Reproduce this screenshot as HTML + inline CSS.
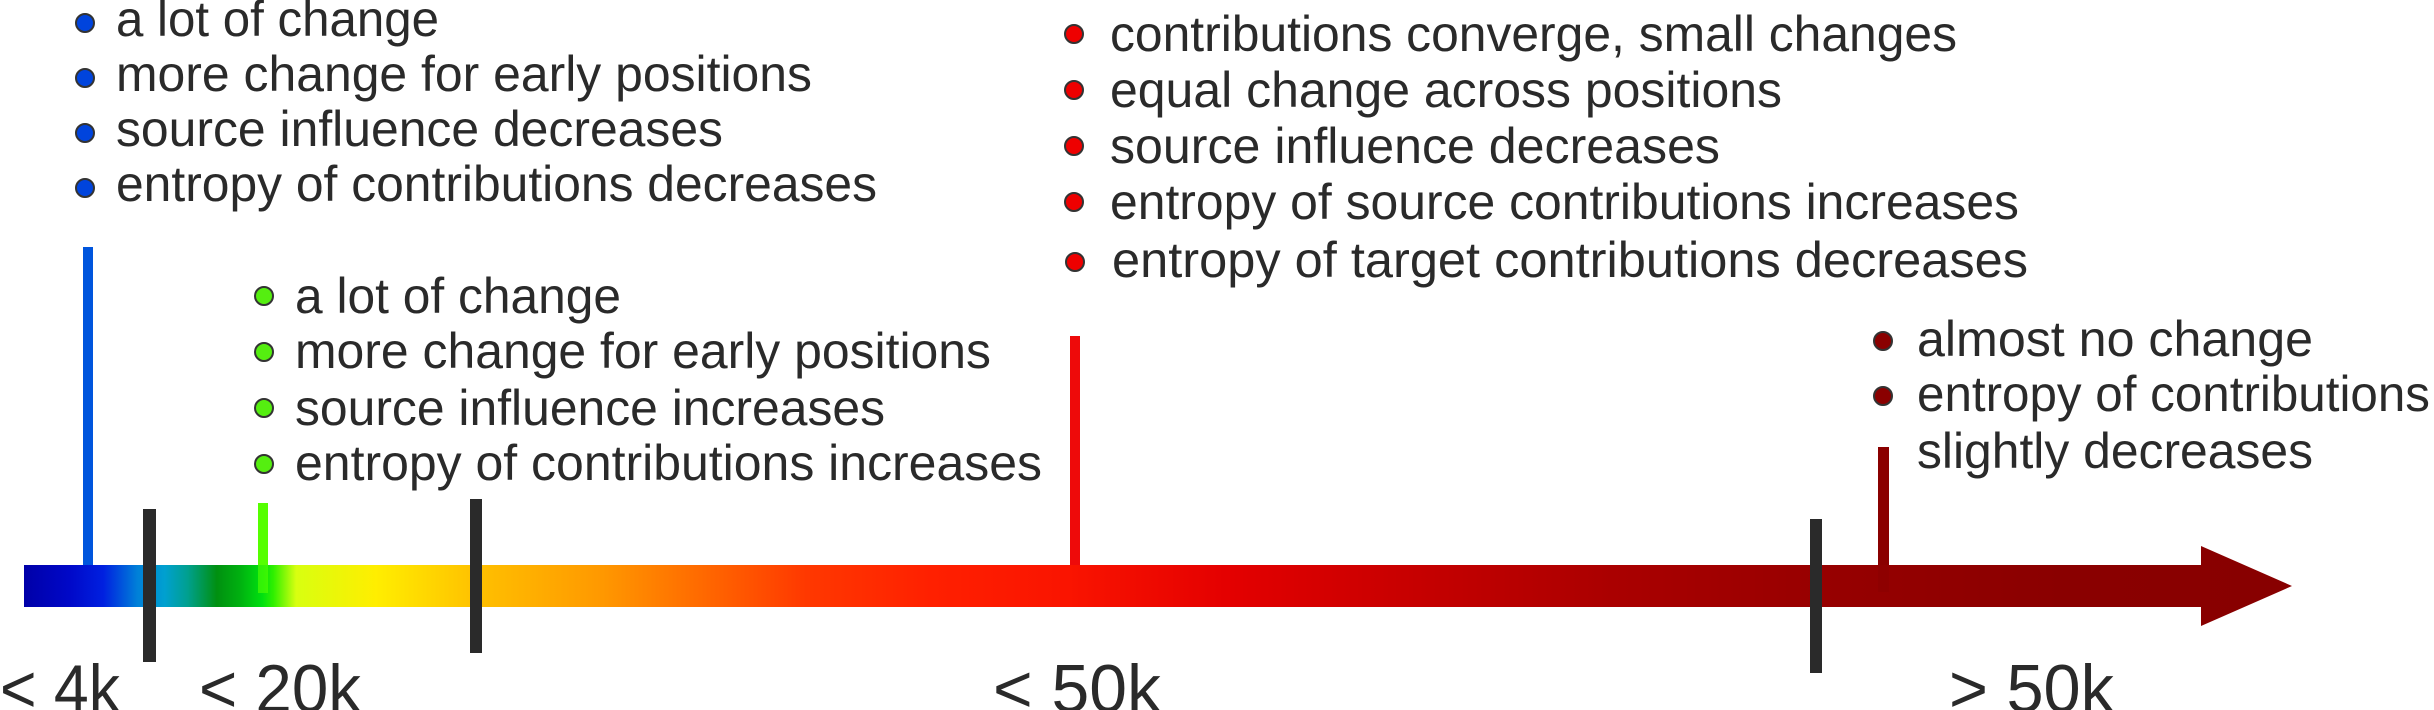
<!DOCTYPE html>
<html><head><meta charset="utf-8"><style>
html,body{margin:0;padding:0;background:#fff;overflow:hidden}
svg{display:block}
text{font-family:"Liberation Sans",Arial,sans-serif;fill:#2a2a2a}
</style></head><body>
<svg width="2434" height="710" viewBox="0 0 2434 710" xmlns="http://www.w3.org/2000/svg">
<defs>
<linearGradient id="g" gradientUnits="userSpaceOnUse" x1="24" y1="0" x2="2292" y2="0">
<stop offset="0" stop-color="#0000a8"/>
<stop offset="0.02" stop-color="#0008c8"/>
<stop offset="0.035" stop-color="#0020e0"/>
<stop offset="0.05" stop-color="#0080d8"/>
<stop offset="0.062" stop-color="#00a0d0"/>
<stop offset="0.072" stop-color="#00a090"/>
<stop offset="0.085" stop-color="#009010"/>
<stop offset="0.095" stop-color="#00b010"/>
<stop offset="0.105" stop-color="#00e010"/>
<stop offset="0.11" stop-color="#30f000"/>
<stop offset="0.12" stop-color="#d8ff10"/>
<stop offset="0.155" stop-color="#ffee00"/>
<stop offset="0.2" stop-color="#ffc000"/>
<stop offset="0.255" stop-color="#ff9800"/>
<stop offset="0.3" stop-color="#ff6800"/>
<stop offset="0.345" stop-color="#ff3800"/>
<stop offset="0.4" stop-color="#ff2000"/>
<stop offset="0.46" stop-color="#fa1400"/>
<stop offset="0.53" stop-color="#e40000"/>
<stop offset="0.62" stop-color="#c40000"/>
<stop offset="0.7" stop-color="#aa0000"/>
<stop offset="0.8" stop-color="#960000"/>
<stop offset="0.9" stop-color="#8a0000"/>
<stop offset="1" stop-color="#880000"/>
</linearGradient>
</defs>
<rect x="83" y="247" width="10" height="320" fill="#0055dd"/>
<rect x="258" y="503" width="10" height="90" fill="#55ff00"/>
<rect x="1070" y="336" width="10" height="230" fill="#ee0a0a"/>
<rect x="1878" y="447" width="11" height="145" fill="#8a0000"/>
<path d="M24 565 H2201 V546 L2292 586 L2201 626 V607 H24 Z" fill="url(#g)"/>
<rect x="258" y="565" width="10" height="28" fill="#55ff00" opacity="0.6"/>
<rect x="1878" y="565" width="11" height="27" fill="#8a0000" opacity="0.6"/>
<rect x="143" y="509" width="13" height="153" fill="#2a2a2a"/>
<rect x="470" y="499" width="12" height="154" fill="#2a2a2a"/>
<rect x="1810" y="519" width="12" height="154" fill="#2a2a2a"/>
<g font-size="68">
<text x="0" y="712" textLength="120" lengthAdjust="spacingAndGlyphs">&lt; 4k</text>
<text x="199" y="712" textLength="162" lengthAdjust="spacingAndGlyphs">&lt; 20k</text>
<text x="993" y="712" textLength="168" lengthAdjust="spacingAndGlyphs">&lt; 50k</text>
<text x="1949" y="712" textLength="165" lengthAdjust="spacingAndGlyphs">&gt; 50k</text>
</g>
<g stroke="#333" stroke-width="2">
<circle cx="85" cy="23" r="9" fill="#0044dd"/>
<circle cx="85" cy="78" r="9" fill="#0044dd"/>
<circle cx="85" cy="133" r="9" fill="#0044dd"/>
<circle cx="85" cy="188" r="9" fill="#0044dd"/>
<circle cx="264" cy="296" r="9" fill="#55ee10"/>
<circle cx="264" cy="352" r="9" fill="#55ee10"/>
<circle cx="264" cy="408" r="9" fill="#55ee10"/>
<circle cx="264" cy="464" r="9" fill="#55ee10"/>
<circle cx="1074" cy="34" r="9" fill="#ee0000"/>
<circle cx="1074" cy="90" r="9" fill="#ee0000"/>
<circle cx="1074" cy="146" r="9" fill="#ee0000"/>
<circle cx="1074" cy="202" r="9" fill="#ee0000"/>
<circle cx="1075" cy="262" r="9" fill="#ee0000"/>
<circle cx="1883" cy="341" r="9" fill="#8a0000"/>
<circle cx="1883" cy="396" r="9" fill="#8a0000"/>
</g>
<g font-size="50">
<text x="116" y="36" textLength="323" lengthAdjust="spacingAndGlyphs">a lot of change</text>
<text x="116" y="91" textLength="696" lengthAdjust="spacingAndGlyphs">more change for early positions</text>
<text x="116" y="146" textLength="607" lengthAdjust="spacingAndGlyphs">source influence decreases</text>
<text x="116" y="201" textLength="761" lengthAdjust="spacingAndGlyphs">entropy of contributions decreases</text>

<text x="295" y="313" textLength="326" lengthAdjust="spacingAndGlyphs">a lot of change</text>
<text x="295" y="368" textLength="696" lengthAdjust="spacingAndGlyphs">more change for early positions</text>
<text x="295" y="425" textLength="590" lengthAdjust="spacingAndGlyphs">source influence increases</text>
<text x="295" y="480" textLength="747" lengthAdjust="spacingAndGlyphs">entropy of contributions increases</text>

<text x="1110" y="51" textLength="847" lengthAdjust="spacingAndGlyphs">contributions converge, small changes</text>
<text x="1110" y="107" textLength="672" lengthAdjust="spacingAndGlyphs">equal change across positions</text>
<text x="1110" y="163" textLength="610" lengthAdjust="spacingAndGlyphs">source influence decreases</text>
<text x="1110" y="219" textLength="909" lengthAdjust="spacingAndGlyphs">entropy of source contributions increases</text>
<text x="1112" y="277" textLength="916" lengthAdjust="spacingAndGlyphs">entropy of target  contributions decreases</text>

<text x="1917" y="356" textLength="396" lengthAdjust="spacingAndGlyphs">almost no change</text>
<text x="1917" y="411" textLength="513" lengthAdjust="spacingAndGlyphs">entropy of contributions</text>
<text x="1917" y="468" textLength="396" lengthAdjust="spacingAndGlyphs">slightly decreases</text>
</g>
</svg>
</body></html>
